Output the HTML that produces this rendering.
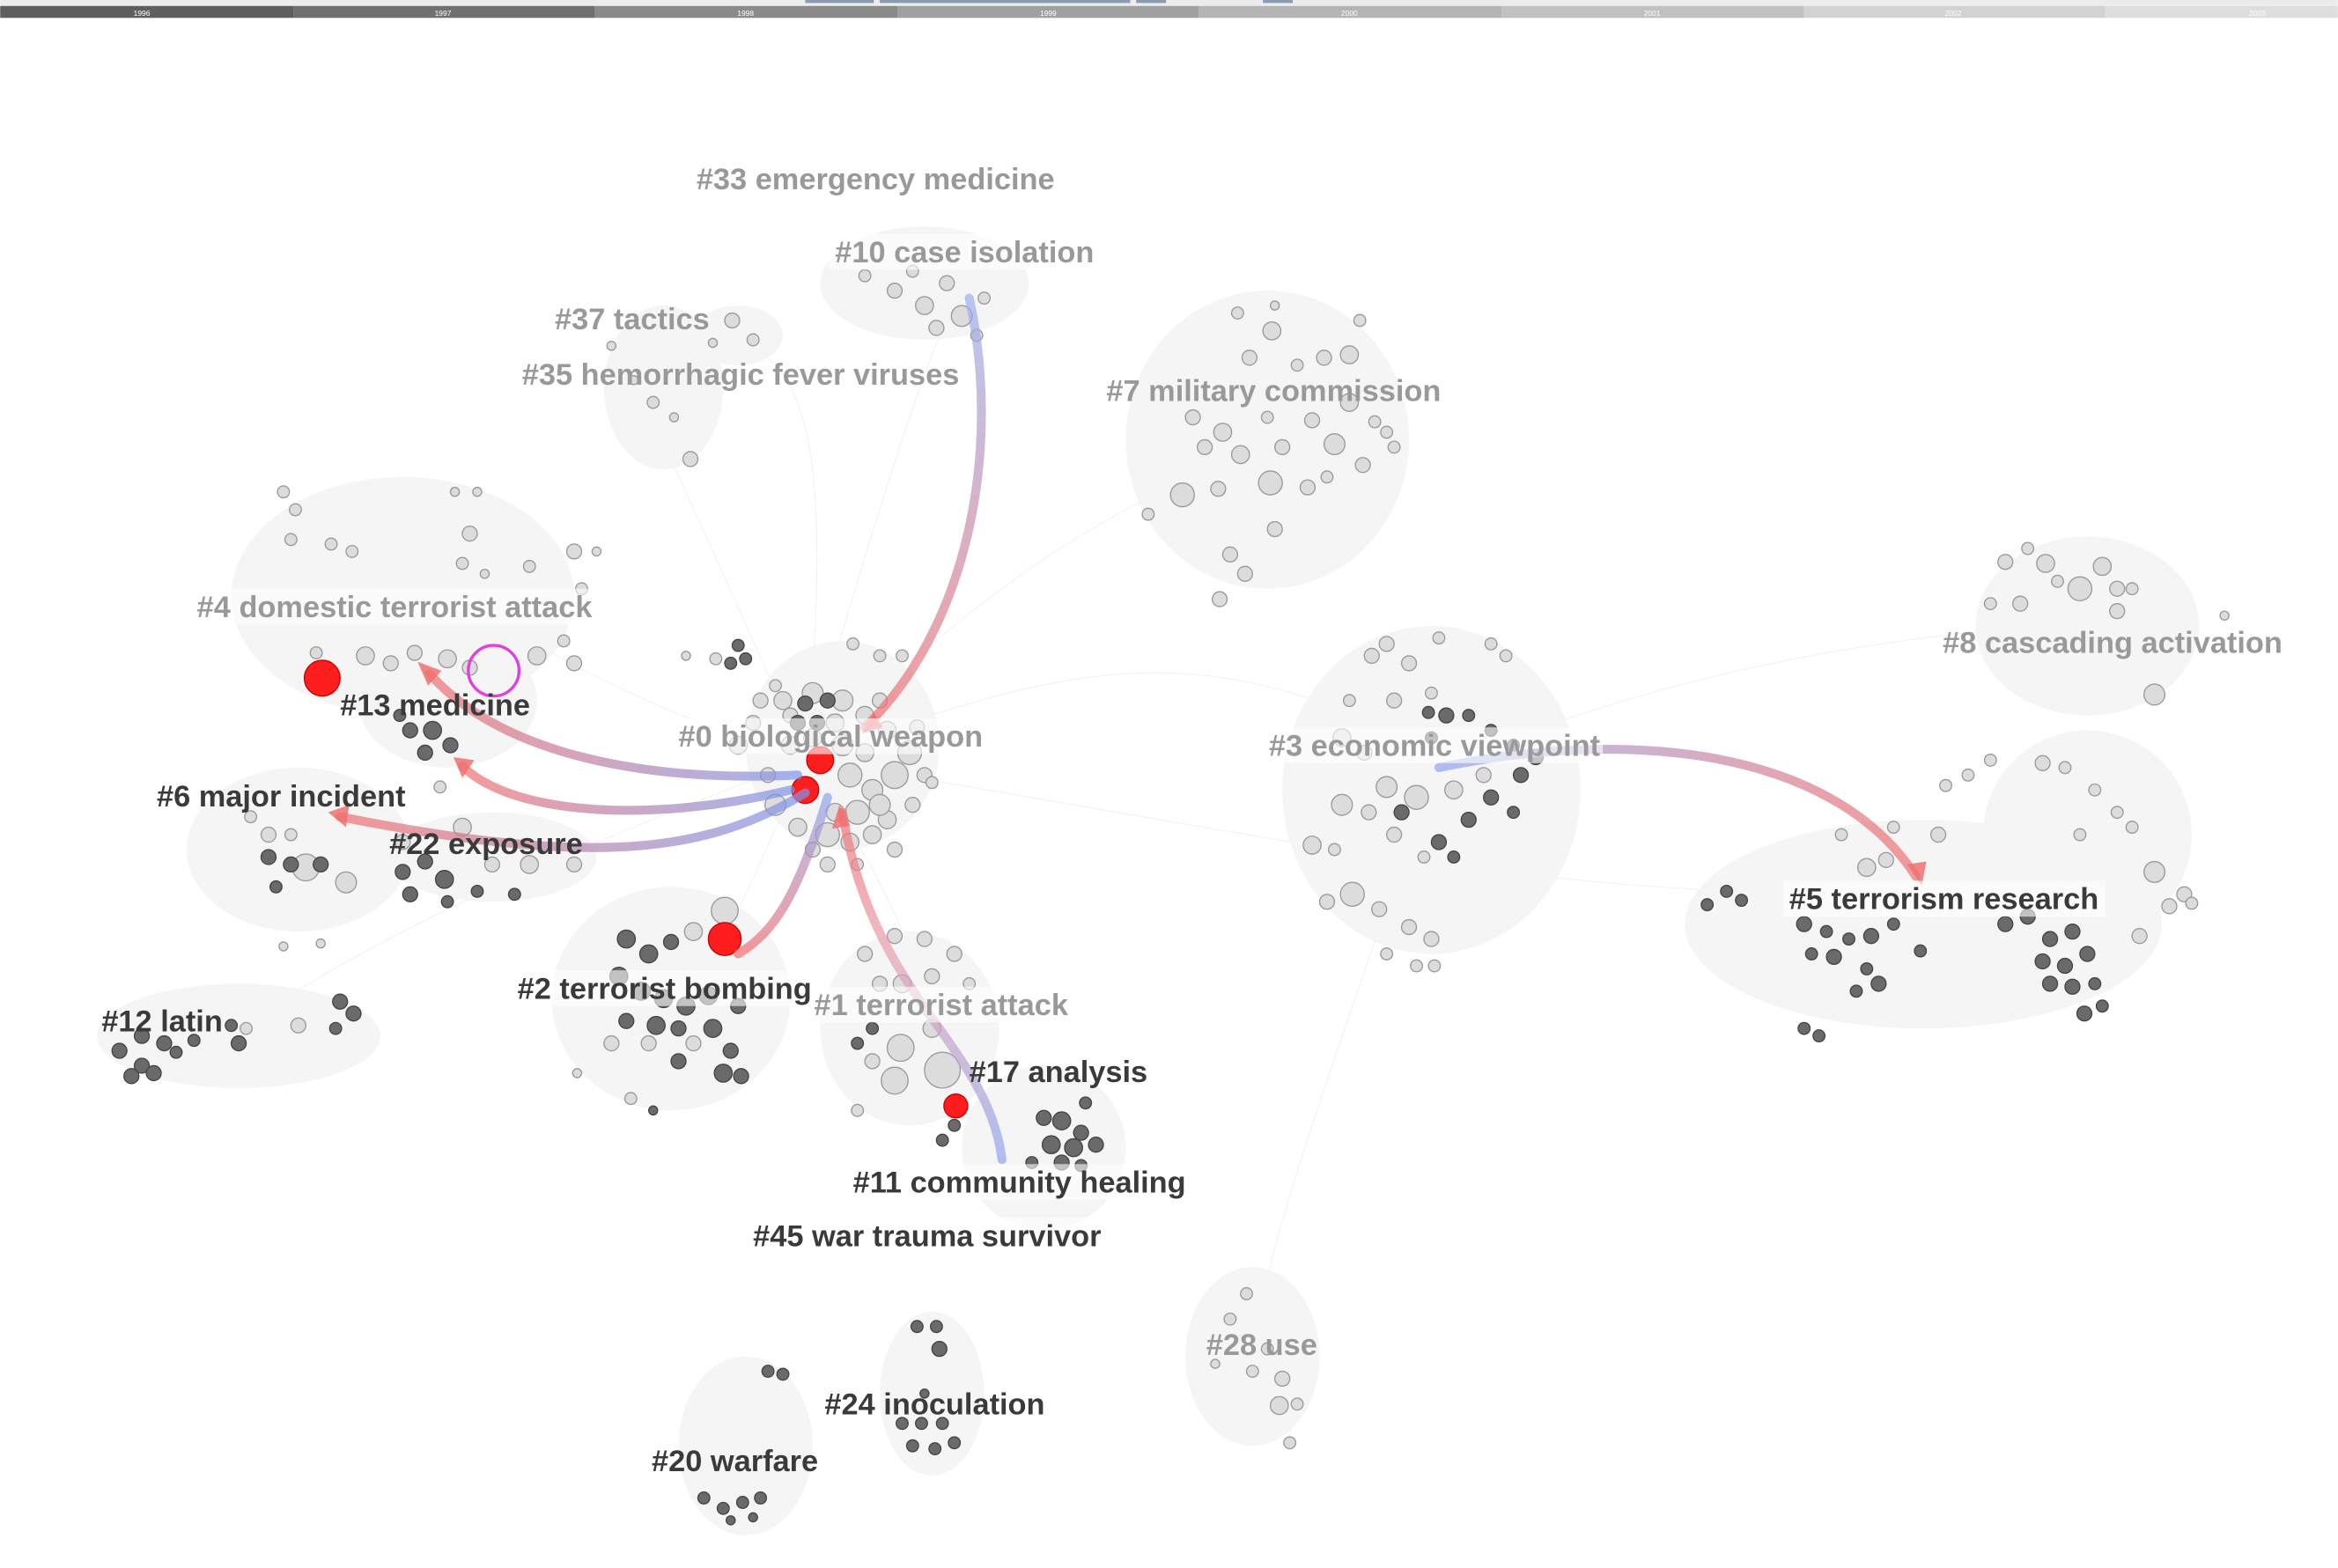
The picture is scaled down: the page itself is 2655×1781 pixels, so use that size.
<!DOCTYPE html>
<html><head><meta charset="utf-8"><style>
html,body{margin:0;padding:0;background:#fff;}
svg{display:block;}
text.l{font-family:"Liberation Sans",sans-serif;font-weight:bold;font-size:20.3px;}
</style></head><body>
<svg width="2655" height="1781" viewBox="0 0 1568 1052" xmlns="http://www.w3.org/2000/svg">
<defs>
<linearGradient id="g1" x1="0" y1="0" x2="0" y2="1"><stop offset="0" stop-color="#9ab0ee"/><stop offset="1" stop-color="#f07070"/></linearGradient>
<linearGradient id="g2" x1="1" y1="0" x2="0" y2="0"><stop offset="0" stop-color="#7f95e8"/><stop offset="1" stop-color="#f07070"/></linearGradient>
<linearGradient id="g3" x1="0" y1="0" x2="1" y2="0"><stop offset="0" stop-color="#8fa5ee"/><stop offset="1" stop-color="#f07070"/></linearGradient>
<linearGradient id="g4" x1="0" y1="1" x2="0" y2="0"><stop offset="0" stop-color="#8fa5ee"/><stop offset="0.6" stop-color="#e9a0b0"/><stop offset="1" stop-color="#f07070"/></linearGradient>
<linearGradient id="g5" x1="0" y1="0" x2="0" y2="1"><stop offset="0" stop-color="#8fa5ee"/><stop offset="1" stop-color="#f07070"/></linearGradient>
</defs>
<rect x="0" y="0" width="1568" height="4" fill="#ececec"/>
<rect x="540" y="0" width="46" height="2" fill="#8a9ab0"/><rect x="590" y="0" width="168" height="2" fill="#8a9ab0"/><rect x="762" y="0" width="20" height="2" fill="#8a9ab0"/><rect x="847" y="0" width="20" height="2" fill="#8a9ab0"/>
<rect x="0" y="4" width="197" height="8" fill="#5e5e5e"/><rect x="197" y="4" width="202" height="8" fill="#707070"/><rect x="399" y="4" width="203" height="8" fill="#8a8a8a"/><rect x="602" y="4" width="202" height="8" fill="#a0a0a0"/><rect x="804" y="4" width="203" height="8" fill="#b4b4b4"/><rect x="1007" y="4" width="203" height="8" fill="#c0c0c0"/><rect x="1210" y="4" width="202" height="8" fill="#d2d2d2"/><rect x="1412" y="4" width="156" height="8" fill="#dedede"/>
<g font-family="Liberation Sans" font-size="5" fill="#fff" text-anchor="middle"><text x="95" y="10.5">1996</text><text x="297" y="10.5">1997</text><text x="500" y="10.5">1998</text><text x="703" y="10.5">1999</text><text x="905" y="10.5">2000</text><text x="1108" y="10.5">2001</text><text x="1310" y="10.5">2002</text><text x="1514" y="10.5">2003</text></g>

<g stroke="#eee" stroke-width="0.6" fill="none" opacity="0.8">
<path d="M540,510 C600,300 620,250 640,200"/><path d="M540,510 C560,300 540,250 500,230"/><path d="M540,510 C700,450 800,420 950,500"/><path d="M540,510 C800,550 1000,600 1250,600"/><path d="M540,510 C450,300 430,280 440,260"/><path d="M540,510 C700,350 800,320 850,300"/><path d="M540,510 C350,450 300,380 250,380"/><path d="M540,510 C600,600 620,650 620,690"/><path d="M540,510 C480,650 470,660 450,670"/><path d="M540,510 C300,600 220,650 160,690"/><path d="M960,520 C1100,450 1300,420 1400,420"/><path d="M960,520 C900,700 860,800 840,900"/>
</g>

<g fill="#f5f5f5">
<ellipse cx="620" cy="190" rx="70" ry="38"/>
<ellipse cx="445" cy="260" rx="40" ry="55"/><ellipse cx="495" cy="225" rx="30" ry="20"/>
<ellipse cx="850" cy="295" rx="95" ry="100"/>
<ellipse cx="270" cy="400" rx="115" ry="80"/><ellipse cx="300" cy="470" rx="60" ry="45"/>
<ellipse cx="1400" cy="420" rx="75" ry="60"/><ellipse cx="1400" cy="560" rx="70" ry="70"/>
<ellipse cx="565" cy="500" rx="65" ry="70"/>
<ellipse cx="960" cy="530" rx="100" ry="110"/>
<ellipse cx="200" cy="570" rx="75" ry="55"/><ellipse cx="330" cy="575" rx="70" ry="30"/>
<ellipse cx="1290" cy="620" rx="160" ry="70"/>
<ellipse cx="450" cy="670" rx="80" ry="75"/>
<ellipse cx="160" cy="695" rx="95" ry="35"/>
<ellipse cx="610" cy="690" rx="60" ry="65"/><ellipse cx="700" cy="770" rx="55" ry="55"/>
<ellipse cx="840" cy="910" rx="45" ry="60"/>
<ellipse cx="625" cy="935" rx="35" ry="55"/><ellipse cx="500" cy="970" rx="45" ry="60"/>
</g>

<g fill="#dcdcdc" stroke="#9a9a9a" stroke-width="0.8">
<circle cx="580" cy="185" r="4"/><circle cx="600" cy="195" r="5"/><circle cx="620" cy="205" r="6"/><circle cx="635" cy="190" r="5"/><circle cx="645" cy="212" r="7"/><circle cx="628" cy="220" r="5"/><circle cx="660" cy="200" r="4"/><circle cx="612" cy="182" r="4"/><circle cx="655" cy="225" r="4"/>
<circle cx="438" cy="270" r="4"/><circle cx="425" cy="255" r="3"/><circle cx="452" cy="280" r="3"/><circle cx="463" cy="308" r="5"/><circle cx="410" cy="232" r="3"/><circle cx="491" cy="215" r="5"/><circle cx="505" cy="228" r="4"/><circle cx="478" cy="230" r="3"/>
<circle cx="830" cy="210" r="4"/><circle cx="855" cy="205" r="3"/><circle cx="838" cy="240" r="5"/><circle cx="853" cy="222" r="6"/><circle cx="870" cy="245" r="4"/><circle cx="888" cy="240" r="5"/><circle cx="905" cy="238" r="6"/><circle cx="800" cy="280" r="5"/><circle cx="820" cy="290" r="6"/><circle cx="850" cy="280" r="4"/><circle cx="880" cy="282" r="5"/><circle cx="905" cy="270" r="6"/><circle cx="922" cy="283" r="4"/><circle cx="808" cy="300" r="5"/><circle cx="832" cy="305" r="6"/><circle cx="860" cy="300" r="5"/><circle cx="895" cy="298" r="7"/><circle cx="914" cy="312" r="5"/><circle cx="935" cy="300" r="4"/><circle cx="793" cy="332" r="8"/><circle cx="817" cy="328" r="5"/><circle cx="852" cy="324" r="8"/><circle cx="877" cy="327" r="5"/><circle cx="890" cy="320" r="4"/><circle cx="770" cy="345" r="4"/><circle cx="855" cy="355" r="5"/><circle cx="825" cy="372" r="5"/><circle cx="835" cy="385" r="5"/><circle cx="818" cy="402" r="5"/><circle cx="912" cy="215" r="4"/><circle cx="930" cy="290" r="4"/>
<circle cx="190" cy="330" r="4"/><circle cx="198" cy="342" r="4"/><circle cx="195" cy="362" r="4"/><circle cx="222" cy="365" r="4"/><circle cx="236" cy="370" r="4"/><circle cx="305" cy="330" r="3"/><circle cx="320" cy="330" r="3"/><circle cx="315" cy="358" r="5"/><circle cx="310" cy="378" r="4"/><circle cx="325" cy="385" r="3"/><circle cx="355" cy="380" r="4"/><circle cx="385" cy="370" r="5"/><circle cx="400" cy="370" r="3"/><circle cx="390" cy="395" r="4"/><circle cx="245" cy="440" r="6"/><circle cx="262" cy="445" r="5"/><circle cx="278" cy="438" r="5"/><circle cx="300" cy="442" r="6"/><circle cx="315" cy="448" r="5"/><circle cx="360" cy="440" r="6"/><circle cx="378" cy="430" r="4"/><circle cx="385" cy="445" r="5"/><circle cx="212" cy="438" r="4"/><circle cx="295" cy="528" r="4"/>
<circle cx="1345" cy="377" r="5"/><circle cx="1360" cy="368" r="4"/><circle cx="1372" cy="378" r="6"/><circle cx="1395" cy="395" r="8"/><circle cx="1410" cy="380" r="6"/><circle cx="1420" cy="395" r="5"/><circle cx="1420" cy="410" r="5"/><circle cx="1430" cy="395" r="4"/><circle cx="1380" cy="390" r="4"/><circle cx="1335" cy="405" r="4"/><circle cx="1355" cy="405" r="5"/><circle cx="1445" cy="466" r="7"/><circle cx="1492" cy="413" r="3"/><circle cx="1370" cy="512" r="5"/><circle cx="1385" cy="515" r="4"/><circle cx="1405" cy="530" r="4"/><circle cx="1420" cy="545" r="4"/><circle cx="1395" cy="560" r="4"/><circle cx="1430" cy="555" r="4"/><circle cx="1445" cy="585" r="7"/><circle cx="1465" cy="600" r="5"/><circle cx="1455" cy="608" r="5"/><circle cx="1470" cy="606" r="4"/><circle cx="1435" cy="628" r="5"/><circle cx="1320" cy="520" r="4"/><circle cx="1335" cy="510" r="4"/><circle cx="1305" cy="527" r="4"/><circle cx="1300" cy="560" r="5"/><circle cx="1270" cy="555" r="4"/><circle cx="1235" cy="560" r="4"/><circle cx="1252" cy="582" r="6"/><circle cx="1265" cy="577" r="5"/>
<circle cx="920" cy="440" r="5"/><circle cx="930" cy="432" r="5"/><circle cx="945" cy="445" r="5"/><circle cx="965" cy="428" r="4"/><circle cx="1000" cy="432" r="4"/><circle cx="1010" cy="440" r="4"/><circle cx="905" cy="470" r="4"/><circle cx="935" cy="470" r="5"/><circle cx="960" cy="465" r="4"/><circle cx="900" cy="495" r="6"/><circle cx="915" cy="505" r="5"/><circle cx="930" cy="528" r="7"/><circle cx="950" cy="535" r="8"/><circle cx="975" cy="530" r="6"/><circle cx="900" cy="540" r="7"/><circle cx="918" cy="545" r="5"/><circle cx="995" cy="520" r="5"/><circle cx="880" cy="567" r="6"/><circle cx="895" cy="570" r="4"/><circle cx="935" cy="560" r="5"/><circle cx="955" cy="575" r="4"/><circle cx="907" cy="600" r="8"/><circle cx="890" cy="605" r="5"/><circle cx="925" cy="610" r="5"/><circle cx="945" cy="622" r="5"/><circle cx="960" cy="630" r="5"/><circle cx="930" cy="640" r="4"/><circle cx="950" cy="648" r="4"/><circle cx="962" cy="648" r="4"/>
<circle cx="495" cy="500" r="6"/><circle cx="510" cy="470" r="5"/><circle cx="525" cy="470" r="6"/><circle cx="545" cy="465" r="7"/><circle cx="565" cy="470" r="7"/><circle cx="580" cy="480" r="6"/><circle cx="595" cy="490" r="6"/><circle cx="610" cy="505" r="8"/><circle cx="620" cy="520" r="5"/><circle cx="600" cy="520" r="9"/><circle cx="585" cy="530" r="7"/><circle cx="575" cy="545" r="8"/><circle cx="595" cy="550" r="6"/><circle cx="570" cy="565" r="6"/><circle cx="555" cy="560" r="8"/><circle cx="535" cy="555" r="6"/><circle cx="520" cy="540" r="7"/><circle cx="515" cy="520" r="5"/><circle cx="555" cy="580" r="5"/><circle cx="575" cy="580" r="4"/><circle cx="600" cy="570" r="5"/><circle cx="612" cy="540" r="5"/><circle cx="625" cy="525" r="4"/><circle cx="572" cy="432" r="4"/><circle cx="590" cy="440" r="4"/><circle cx="605" cy="440" r="4"/><circle cx="480" cy="442" r="4"/><circle cx="460" cy="440" r="3"/><circle cx="520" cy="460" r="4"/>
<circle cx="530" cy="500" r="6"/><circle cx="545" cy="495" r="6"/><circle cx="565" cy="500" r="7"/><circle cx="580" cy="505" r="6"/><circle cx="570" cy="520" r="8"/><circle cx="590" cy="540" r="7"/><circle cx="560" cy="545" r="6"/><circle cx="585" cy="560" r="6"/><circle cx="545" cy="570" r="5"/><circle cx="560" cy="485" r="6"/><circle cx="590" cy="470" r="5"/><circle cx="530" cy="480" r="5"/><circle cx="505" cy="485" r="5"/><circle cx="615" cy="488" r="5"/>
<circle cx="205" cy="582" r="9"/><circle cx="232" cy="592" r="7"/><circle cx="168" cy="548" r="4"/><circle cx="180" cy="560" r="5"/><circle cx="195" cy="560" r="4"/><circle cx="270" cy="565" r="5"/><circle cx="310" cy="555" r="6"/><circle cx="330" cy="580" r="5"/><circle cx="355" cy="580" r="6"/><circle cx="385" cy="580" r="5"/><circle cx="190" cy="635" r="3"/><circle cx="215" cy="633" r="3"/>
<circle cx="486" cy="611" r="9"/><circle cx="465" cy="625" r="6"/><circle cx="410" cy="700" r="5"/><circle cx="435" cy="700" r="5"/><circle cx="465" cy="700" r="5"/><circle cx="387" cy="720" r="3"/><circle cx="423" cy="737" r="4"/>
<circle cx="580" cy="640" r="5"/><circle cx="600" cy="628" r="5"/><circle cx="620" cy="630" r="5"/><circle cx="640" cy="640" r="5"/><circle cx="590" cy="660" r="5"/><circle cx="605" cy="660" r="6"/><circle cx="625" cy="655" r="5"/><circle cx="650" cy="660" r="4"/><circle cx="604" cy="703" r="9"/><circle cx="632" cy="718" r="12"/><circle cx="600" cy="725" r="9"/><circle cx="585" cy="712" r="5"/><circle cx="575" cy="745" r="4"/><circle cx="625" cy="690" r="6"/>
<circle cx="200" cy="688" r="5"/><circle cx="165" cy="690" r="4"/>
<circle cx="836" cy="868" r="4"/><circle cx="825" cy="885" r="4"/><circle cx="850" cy="905" r="4"/><circle cx="840" cy="920" r="4"/><circle cx="860" cy="925" r="5"/><circle cx="858" cy="943" r="6"/><circle cx="870" cy="942" r="4"/><circle cx="865" cy="968" r="4"/><circle cx="815" cy="915" r="3"/>
</g>
<g fill="#6a6a6a" stroke="#444" stroke-width="0.8">
<circle cx="495" cy="433" r="4"/><circle cx="500" cy="442" r="4"/><circle cx="490" cy="445" r="4"/>
<circle cx="540" cy="472" r="5"/><circle cx="555" cy="470" r="5"/><circle cx="535" cy="485" r="5"/><circle cx="548" cy="485" r="5"/>
<circle cx="275" cy="490" r="5"/><circle cx="290" cy="490" r="6"/><circle cx="302" cy="500" r="5"/><circle cx="285" cy="505" r="5"/><circle cx="268" cy="480" r="4"/>
<circle cx="958" cy="478" r="4"/><circle cx="970" cy="480" r="5"/><circle cx="985" cy="480" r="4"/><circle cx="1000" cy="490" r="4"/><circle cx="1015" cy="500" r="4"/><circle cx="1030" cy="508" r="5"/><circle cx="960" cy="495" r="4"/><circle cx="1020" cy="520" r="5"/><circle cx="1000" cy="535" r="5"/><circle cx="1015" cy="545" r="4"/><circle cx="985" cy="550" r="5"/><circle cx="965" cy="565" r="5"/><circle cx="975" cy="575" r="4"/><circle cx="940" cy="545" r="5"/>
<circle cx="180" cy="575" r="5"/><circle cx="195" cy="580" r="5"/><circle cx="215" cy="580" r="5"/><circle cx="185" cy="595" r="4"/><circle cx="270" cy="585" r="5"/><circle cx="285" cy="578" r="5"/><circle cx="298" cy="590" r="6"/><circle cx="275" cy="600" r="5"/><circle cx="300" cy="605" r="4"/><circle cx="320" cy="598" r="4"/><circle cx="345" cy="600" r="4"/>
<circle cx="420" cy="630" r="6"/><circle cx="435" cy="640" r="6"/><circle cx="450" cy="632" r="5"/><circle cx="415" cy="655" r="6"/><circle cx="430" cy="665" r="6"/><circle cx="445" cy="670" r="6"/><circle cx="460" cy="675" r="6"/><circle cx="475" cy="668" r="6"/><circle cx="495" cy="675" r="5"/><circle cx="420" cy="685" r="5"/><circle cx="440" cy="688" r="6"/><circle cx="455" cy="690" r="5"/><circle cx="478" cy="690" r="6"/><circle cx="490" cy="705" r="5"/><circle cx="455" cy="712" r="5"/><circle cx="485" cy="720" r="6"/><circle cx="497" cy="722" r="5"/><circle cx="438" cy="745" r="3"/>
<circle cx="95" cy="695" r="5"/><circle cx="110" cy="700" r="5"/><circle cx="80" cy="705" r="5"/><circle cx="95" cy="715" r="5"/><circle cx="88" cy="722" r="5"/><circle cx="103" cy="720" r="5"/><circle cx="118" cy="706" r="4"/><circle cx="130" cy="698" r="4"/><circle cx="155" cy="688" r="4"/><circle cx="160" cy="700" r="5"/><circle cx="228" cy="672" r="5"/><circle cx="237" cy="680" r="5"/><circle cx="225" cy="690" r="4"/>
<circle cx="575" cy="700" r="4"/><circle cx="585" cy="690" r="4"/><circle cx="640" cy="755" r="4"/><circle cx="632" cy="765" r="4"/>
<circle cx="700" cy="750" r="5"/><circle cx="712" cy="752" r="6"/><circle cx="725" cy="760" r="5"/><circle cx="705" cy="768" r="6"/><circle cx="720" cy="770" r="6"/><circle cx="735" cy="768" r="5"/><circle cx="728" cy="740" r="4"/><circle cx="712" cy="780" r="5"/><circle cx="725" cy="782" r="4"/><circle cx="692" cy="780" r="4"/>
<circle cx="1145" cy="607" r="4"/><circle cx="1158" cy="598" r="4"/><circle cx="1168" cy="604" r="4"/><circle cx="1210" cy="620" r="5"/><circle cx="1225" cy="625" r="4"/><circle cx="1240" cy="630" r="4"/><circle cx="1255" cy="628" r="5"/><circle cx="1270" cy="620" r="4"/><circle cx="1215" cy="640" r="4"/><circle cx="1230" cy="642" r="5"/><circle cx="1252" cy="650" r="4"/><circle cx="1260" cy="660" r="5"/><circle cx="1245" cy="665" r="4"/><circle cx="1210" cy="690" r="4"/><circle cx="1220" cy="695" r="4"/><circle cx="1288" cy="638" r="4"/><circle cx="1345" cy="620" r="5"/><circle cx="1360" cy="615" r="5"/><circle cx="1375" cy="630" r="5"/><circle cx="1390" cy="625" r="5"/><circle cx="1370" cy="645" r="5"/><circle cx="1385" cy="648" r="5"/><circle cx="1400" cy="640" r="5"/><circle cx="1375" cy="660" r="5"/><circle cx="1390" cy="662" r="5"/><circle cx="1405" cy="660" r="4"/><circle cx="1398" cy="680" r="5"/><circle cx="1410" cy="675" r="4"/>
<circle cx="615" cy="890" r="4"/><circle cx="628" cy="890" r="4"/><circle cx="630" cy="905" r="5"/><circle cx="605" cy="955" r="4"/><circle cx="618" cy="955" r="4"/><circle cx="632" cy="955" r="4"/><circle cx="612" cy="970" r="4"/><circle cx="627" cy="972" r="4"/><circle cx="640" cy="968" r="4"/><circle cx="620" cy="935" r="3"/>
<circle cx="515" cy="920" r="4"/><circle cx="525" cy="922" r="4"/><circle cx="472" cy="1005" r="4"/><circle cx="485" cy="1012" r="4"/><circle cx="498" cy="1008" r="4"/><circle cx="510" cy="1005" r="4"/><circle cx="490" cy="1020" r="3"/><circle cx="505" cy="1018" r="3"/>
</g>
<g fill="#ff1e1e" stroke="#c00" stroke-width="0.8">
<circle cx="216" cy="455" r="12"/><circle cx="550" cy="510" r="9"/><circle cx="540" cy="530" r="9"/><circle cx="486" cy="630" r="11"/><circle cx="641" cy="742" r="8"/>
</g>
<circle cx="331" cy="450" r="17" fill="none" stroke="#e040e0" stroke-width="2"/>

<g fill="none" stroke-width="6" opacity="0.7" stroke-linecap="round">
<path d="M650,200 C672,300 650,420 580,488" stroke="url(#g1)"/>
<path d="M535,520 C430,525 335,505 288,452" stroke="url(#g2)"/>
<path d="M530,530 C440,552 345,548 310,514" stroke="url(#g2)"/>
<path d="M540,532 C470,575 390,580 228,548" stroke="url(#g2)"/>
<path d="M555,535 C535,600 520,625 495,640" stroke="url(#g5)"/>
<path d="M672,778 C662,700 585,670 565,545" stroke="url(#g4)"/>
<path d="M965,515 C1110,485 1235,510 1285,588" stroke="url(#g3)"/>
</g>
<g fill="#f07070" opacity="0.85">
<polygon points="280,444 296,450 287,460"/><polygon points="304,508 318,510 310,522"/><polygon points="220,545 234,540 232,555"/><polygon points="1289,594 1279,580 1292,578"/><polygon points="578,492 586,478 592,488"/><polygon points="563,540 558,556 570,554"/>
</g>

<g>
<rect x="463" y="108" width="246" height="24" fill="#fff" opacity="0.6"/>
<rect x="556" y="157" width="180" height="24" fill="#fff" opacity="0.6"/>
<rect x="128" y="395" width="275" height="24" fill="#fff" opacity="0.6"/>
<rect x="451" y="482" width="210" height="24" fill="#fff" opacity="0.6"/>
<rect x="847" y="488" width="228" height="24" fill="#fff" opacity="0.6"/>
<rect x="1196" y="591" width="216" height="24" fill="#fff" opacity="0.6"/>
<rect x="542" y="662" width="180" height="24" fill="#fff" opacity="0.6"/>
<rect x="343" y="651" width="204" height="24" fill="#fff" opacity="0.6"/>
<rect x="568" y="781" width="230" height="24" fill="#fff" opacity="0.6"/>
<rect x="501" y="817" width="242" height="24" fill="#fff" opacity="0.6"/>
</g>
<g fill="#999">
<text class="l" x="467" y="127">#33 emergency medicine</text>
<text class="l" x="560" y="176">#10 case isolation</text>
<text class="l" x="372" y="221">#37 tactics</text>
<text class="l" x="350" y="258">#35 hemorrhagic fever viruses</text>
<text class="l" x="742" y="269">#7 military commission</text>
<text class="l" x="132" y="414">#4 domestic terrorist attack</text>
<text class="l" x="1303" y="438">#8 cascading activation</text>
<text class="l" x="455" y="501">#0 biological weapon</text>
<text class="l" x="851" y="507">#3 economic viewpoint</text>
<text class="l" x="546" y="681">#1 terrorist attack</text>
<text class="l" x="809" y="909">#28 use</text>
</g>
<g fill="#3a3a3a">
<text class="l" x="228" y="480">#13 medicine</text>
<text class="l" x="105" y="541">#6 major incident</text>
<text class="l" x="261" y="573">#22 exposure</text>
<text class="l" x="1200" y="610">#5 terrorism research</text>
<text class="l" x="347" y="670">#2 terrorist bombing</text>
<text class="l" x="68" y="692">#12 latin</text>
<text class="l" x="650" y="726">#17 analysis</text>
<text class="l" x="572" y="800">#11 community healing</text>
<text class="l" x="505" y="836">#45 war trauma survivor</text>
<text class="l" x="553" y="949">#24 inoculation</text>
<text class="l" x="437" y="987">#20 warfare</text>
</g>
</svg>
</body></html>
